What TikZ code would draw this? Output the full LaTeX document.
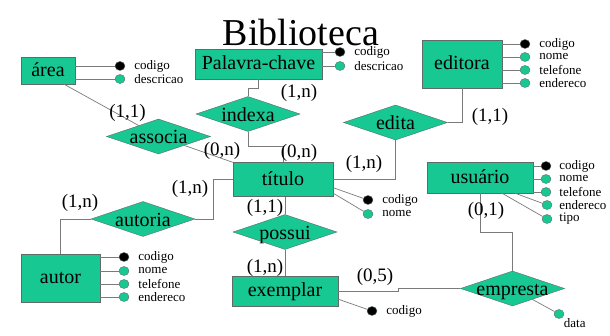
\documentclass[tikz,border=0pt]{standalone}
\usepackage{fontspec}
\setmainfont{Liberation Serif}
\usetikzlibrary{positioning,shapes.geometric,calc}
\definecolor{gr}{HTML}{17C893}
\definecolor{bd}{HTML}{5F6B66}
\definecolor{ln}{HTML}{7A7A7A}

\begin{document}
\begin{tikzpicture}[x=1pt,y=-1pt,
  ent/.style={draw=bd,fill=gr,inner sep=0pt,text height=12pt,text depth=0pt,font=\fontsize{20}{22}\selectfont},
  rel/.style={diamond,draw=bd,fill=gr,inner sep=0pt,minimum width=104pt,minimum height=35pt},
  rtx/.style={inner sep=0pt,text height=15pt,text depth=0pt,font=\fontsize{20}{22}\selectfont},
  atr/.style={ellipse,draw=bd,fill=gr,inner sep=0pt,minimum width=10pt,minimum height=9pt},
  lbl/.style={inner sep=1pt,font=\fontsize{13}{14}\selectfont},
  crd/.style={inner sep=0pt,font=\fontsize{19}{21}\selectfont},
  lk/.style={draw=ln,line width=0.7pt}]
\useasboundingbox (0,0) rectangle (610,336);
\node[anchor=base,inner sep=0pt,font=\fontsize{38}{40}\selectfont] (tit) at (301,46) {Biblioteca};
% entidades
\node[ent,minimum width=54pt,minimum height=27pt] (area) at (48,70.5) {área};
\node[ent,minimum width=127pt,minimum height=30pt] (palavra) at (258.5,64) {Palavra-chave};
\node[ent,minimum width=80pt,minimum height=48pt] (editora) at (462,64) {editora};
\node[ent,minimum width=100pt,minimum height=34pt] (titulo) at (283,179.5) {título};
\node[ent,minimum width=106pt,minimum height=31pt] (usuario) at (480,177.5) {usuário};
\node[ent,minimum width=79pt,minimum height=48pt] (autor) at (60.5,278) {autor};
\node[ent,minimum width=106pt,minimum height=30pt] (exemplar) at (285,291) {exemplar};
% relacionamentos
\node[rel,label={[rtx]center:associa}] (associa) at (158.5,136.5) {};
\node[rel,label={[rtx]center:indexa}] (indexa) at (248,114) {};
\node[rel,label={[rtx]center:edita}] (edita) at (395.5,122.5) {};
\node[rel,label={[rtx]center:autoria}] (autoria) at (143,219) {};
\node[rel,label={[rtx]center:possui}] (possui) at (285,232) {};
\node[rel,label={[rtx]center:empresta}] (empresta) at (512.5,288.5) {};
% atributos
\foreach \n/\y/\c in {codigo/66/black,descricao/79/gr}{
  \node[atr,fill=\c] (area-\n) at (120,\y) {};
  \node[lbl,right=8pt of area-\n] (area-\n-t) {\n};
  \draw[lk] (area.east |- area-\n) -- (area-\n);
}
\foreach \n/\y/\c in {codigo/52/black,descricao/66/gr}{
  \node[atr,fill=\c] (pal-\n) at (340,\y) {};
  \node[lbl,right=8pt of pal-\n] (pal-\n-t) {\n};
  \draw[lk] (palavra.east |- pal-\n) -- (pal-\n);
}
\foreach \n/\y/\c in {codigo/44/black,nome/57/gr,telefone/70/gr,endereco/83/gr}{
  \node[atr,fill=\c] (ed-\n) at (525,\y) {};
  \node[lbl,right=8pt of ed-\n] (ed-\n-t) {\n};
  \draw[lk] (editora.east |- ed-\n) -- (ed-\n);
}
\foreach \n/\y/\c in {codigo/257/black,nome/271/gr,telefone/284/gr,endereco/297/gr}{
  \node[atr,fill=\c] (au-\n) at (124,\y) {};
  \node[lbl,right=8pt of au-\n] (au-\n-t) {\n};
  \draw[lk] (autor.east |- au-\n) -- (au-\n);
}
\foreach \n/\y/\c in {codigo/166/black,nome/179/gr,telefone/192/gr}{
  \node[atr,fill=\c] (us-\n) at (546,\y) {};
  \node[lbl,right=7pt of us-\n] (us-\n-t) {\n};
  \draw[lk] (usuario.east |- us-\n) -- (us-\n);
}
\node[atr] (us-endereco) at (547,205) {};
\node[lbl,right=6pt of us-endereco] (us-endereco-t) {endereco};
\draw[lk] ($(usuario.south)+(35,0)$) -- (us-endereco);
\node[atr] (us-tipo) at (547,219) {};
\node[lbl,right=6pt of us-tipo] (us-tipo-t) {tipo};
\draw[lk] ($(usuario.south)+(22,0)$) -- (us-tipo);
\node[atr,fill=black] (ti-codigo) at (368,200) {};
\node[lbl,right=8pt of ti-codigo] (ti-codigo-t) {codigo};
\draw[lk] ($(titulo.south east)+(0,-9)$) -- (ti-codigo);
\node[atr] (ti-nome) at (368,214) {};
\node[lbl,right=8pt of ti-nome] (ti-nome-t) {nome};
\draw[lk] ($(titulo.south east)+(0,-3.5)$) -- (ti-nome);
\node[atr,fill=black] (ex-codigo) at (372,311) {};
\node[lbl,right=8pt of ex-codigo] (ex-codigo-t) {codigo};
\draw[lk] ($(exemplar.south east)+(0,-7)$) -- (ex-codigo);
\node[atr] (em-data) at (559,314) {};
\node[lbl,anchor=north west] (em-data-t) at (em-data.south east) {data};
\draw[lk] (empresta) -- (em-data);
% ligacoes
\draw[lk] (palavra.south) -- ++(0,9) -| (indexa.north);
\draw[lk] (indexa.south) -- ++(0,15) -| (titulo.north);
\draw[lk] ($(area.south)+(16,0)$) -- (associa);
\draw[lk] (associa) -- (titulo.north west);
\draw[lk] (editora.south) |- (edita.east);
\draw[lk] (edita.south) |- (titulo.east);
\draw[lk] (autoria.east) -- ++(18,0) |- (titulo.west);
\draw[lk] (autoria.west) -| (autor.north);
\draw[lk] (possui.north) -- (possui.north |- titulo.south);
\draw[lk] (possui.south) -- (possui.south |- exemplar.north);
\draw[lk] (usuario.south) -- ++(0,39) -| (empresta.north);
\draw[lk] (exemplar.east) -- ++(60,0) |- (empresta.west);
% cardinalidades
\node[crd] (c1) at (127.5,113) {(1,1)};
\node[crd] (c2) at (299,93) {(1,n)};
\node[crd] (c3) at (222,151) {(0,n)};
\node[crd] (c4) at (299,153) {(0,n)};
\node[crd] (c5) at (364,164) {(1,n)};
\node[crd] (c6) at (490,117) {(1,1)};
\node[crd] (c7) at (190,189) {(1,n)};
\node[crd] (c8) at (80,203) {(1,n)};
\node[crd] (c9) at (265,208) {(1,1)};
\node[crd] (c10) at (265,268) {(1,n)};
\node[crd] (c11) at (375,277) {(0,5)};
\node[crd] (c12) at (486,211) {(0,1)};
\end{tikzpicture}
\end{document}
